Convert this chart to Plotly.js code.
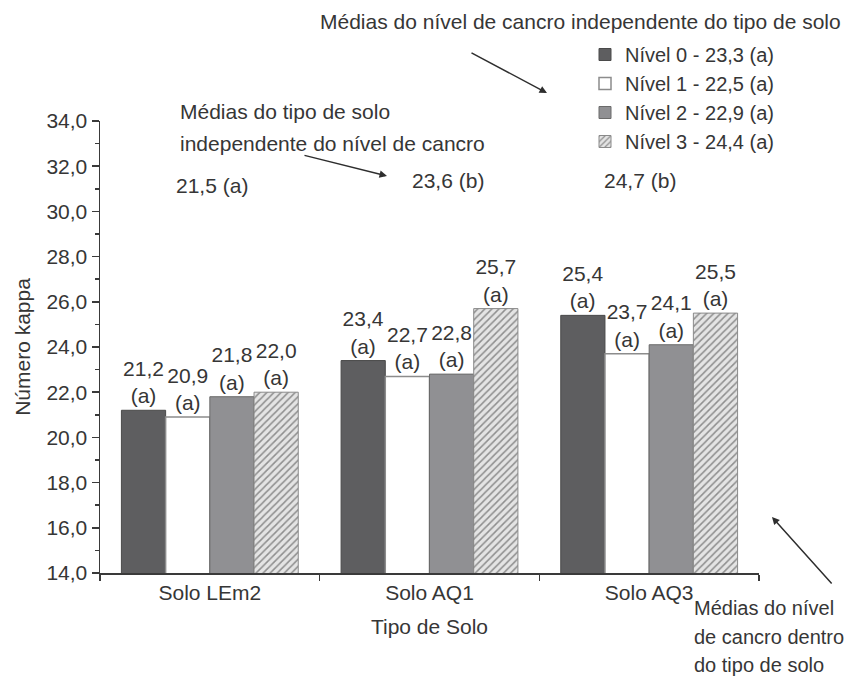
<!DOCTYPE html>
<html>
<head>
<meta charset="utf-8">
<script src="https://cdn.plot.ly/plotly-3.0.1.min.js"></script>
<style>html,body{margin:0;padding:0;background:#fff;}#chart{width:852px;height:678px;}</style>
</head>
<body>
<div id="chart"></div>
<script>
// ---- data ----
const categories = ['Solo LEm2', 'Solo AQ1', 'Solo AQ3'];
const seriesNames = ['Nível 0 - 23,3 (a)', 'Nível 1 - 22,5 (a)', 'Nível 2 - 22,9 (a)', 'Nível 3 - 24,4 (a)'];
const level0 = [21.2, 23.4, 25.4];
const level1 = [20.9, 22.7, 23.7];
const level2 = [21.8, 22.8, 24.1];
const level3 = [22.0, 25.7, 25.5];
const letters0 = ['a', 'a', 'a'];
const letters1 = ['a', 'a', 'a'];
const letters2 = ['a', 'a', 'a'];
const letters3 = ['a', 'a', 'a'];
const soilMeans = ['21,5', '23,6', '24,7'];
const soilLetters = ['a', 'b', 'b'];
const yTickVals = [14, 16, 18, 20, 22, 24, 26, 28, 30, 32, 34];

// ---- layout helpers (pixel -> paper) ----
const W = 852, H = 678;
const M = {l: 100, r: 93, t: 121, b: 105};
const pw = W - M.l - M.r, ph = H - M.t - M.b;
const px = x => (x - M.l) / pw;
const py = y => (H - M.b - y) / ph;

const FONT = 'Liberation Sans, Arial, sans-serif';
const TXT = '#363636';

const styles = [
  {color: '#5e5e60', line: '#4a4a4a', lw: 1},
  {color: '#ffffff', line: '#8c8c8c', lw: 1.5},
  {color: '#909093', line: '#6a6a6a', lw: 1},
  {color: '#e4e4e4', line: '#8a8a8a', lw: 1, pattern: {shape: '/', fgcolor: '#8e8e8e', bgcolor: '#e4e4e4', size: 5, solidity: 0.3}}
];
const values = [level0, level1, level2, level3];
const letters = [letters0, letters1, letters2, letters3];

const traces = values.map((v, i) => {
  const marker = {color: styles[i].color, line: {color: styles[i].line, width: styles[i].lw}};
  if (styles[i].pattern) marker.pattern = styles[i].pattern;
  return {
    type: 'bar', name: seriesNames[i], x: categories, y: v,
    text: letters[i], texttemplate: '%{y:.1f}<br>(%{text})',
    textposition: 'outside', cliponaxis: false, constraintext: 'none',
    textfont: {family: FONT, size: 21, color: TXT},
    marker: marker, legendgroup: 'g' + i, hoverinfo: 'skip'
  };
});

const annotations = [];
// explanatory texts
annotations.push({xref: 'paper', yref: 'paper', x: px(580), y: py(22), text: 'Médias do nível de cancro independente do tipo de solo', showarrow: false, xanchor: 'center', yanchor: 'middle', font: {family: FONT, size: 21, color: TXT}});
annotations.push({xref: 'paper', yref: 'paper', x: px(178), y: py(111), text: 'Médias do tipo de solo', showarrow: false, xanchor: 'left', yanchor: 'middle', font: {family: FONT, size: 21, color: TXT}});
annotations.push({xref: 'paper', yref: 'paper', x: px(178), y: py(143), text: 'independente do nível de cancro', showarrow: false, xanchor: 'left', yanchor: 'middle', font: {family: FONT, size: 21, color: TXT}});
['Médias do nível', 'de cancro dentro', 'do tipo de solo'].forEach((t, k) => {
  annotations.push({xref: 'paper', yref: 'paper', x: px(692), y: py(608 + 28.5 * k), text: t, showarrow: false, xanchor: 'left', yanchor: 'middle', font: {family: FONT, size: 20, color: TXT}});
});
// soil means
const meanShift = [2, 18, -9];
const meanY = [186, 180, 180];
categories.forEach((c, i) => {
  annotations.push({xref: 'x', yref: 'paper', x: c, xshift: meanShift[i], y: py(meanY[i]), text: soilMeans[i] + ' (' + soilLetters[i] + ')', showarrow: false, xanchor: 'center', yanchor: 'middle', font: {family: FONT, size: 21, color: TXT}});
});
// arrows
const arrows = [
  {tail: [470, 52], head: [547, 93]},
  {tail: [303, 155], head: [387, 176]},
  {tail: [833, 585], head: [772, 517]}
];
arrows.forEach(a => {
  annotations.push({xref: 'paper', yref: 'paper', x: px(a.head[0]), y: py(a.head[1]), ax: a.tail[0] - a.head[0], ay: a.tail[1] - a.head[1], text: '', showarrow: true, arrowhead: 2, arrowsize: 1, arrowwidth: 1.5, arrowcolor: '#2e2e2e', standoff: 0, startstandoff: 0});
});

const layout = {
  width: W, height: H,
  margin: M,
  paper_bgcolor: '#fff', plot_bgcolor: '#fff',
  separators: ',.',
  font: {family: FONT, size: 21, color: TXT},
  barmode: 'group', bargap: 0.195, bargroupgap: 0,
  showlegend: true,
  legend: {x: px(585), y: py(35), xanchor: 'left', yanchor: 'top', font: {family: FONT, size: 20, color: TXT}, bgcolor: 'rgba(0,0,0,0)', tracegroupgap: 0, traceorder: 'normal', itemwidth: 30},
  xaxis: {
    type: 'category', range: [-0.5, 2.5], showline: true, linecolor: '#3a3a3a', linewidth: 1.5,
    ticks: 'outside', tickson: 'boundaries', ticklen: 6, tickwidth: 1.5, tickcolor: '#3a3a3a',
    showgrid: false, zeroline: false, tickfont: {family: FONT, size: 21, color: TXT},
    title: {text: 'Tipo de Solo', font: {family: FONT, size: 21, color: TXT}, standoff: 16}
  },
  yaxis: {
    range: [14, 34], tickvals: yTickVals, tickformat: '.1f', showline: true, linecolor: '#3a3a3a', linewidth: 1.5,
    ticks: 'outside', ticklen: 7, tickwidth: 1.5, tickcolor: '#3a3a3a',
    minor: {dtick: 1, ticks: 'outside', ticklen: 4, tickwidth: 1.5, tickcolor: '#3a3a3a', showgrid: false},
    showgrid: false, zeroline: false, tickfont: {family: FONT, size: 21, color: TXT},
    title: {text: 'Número kappa', font: {family: FONT, size: 21, color: TXT}, standoff: 10}
  },
  annotations: annotations
};

Plotly.newPlot('chart', traces, layout, {staticPlot: true, displayModeBar: false});
</script>
</body>
</html>
